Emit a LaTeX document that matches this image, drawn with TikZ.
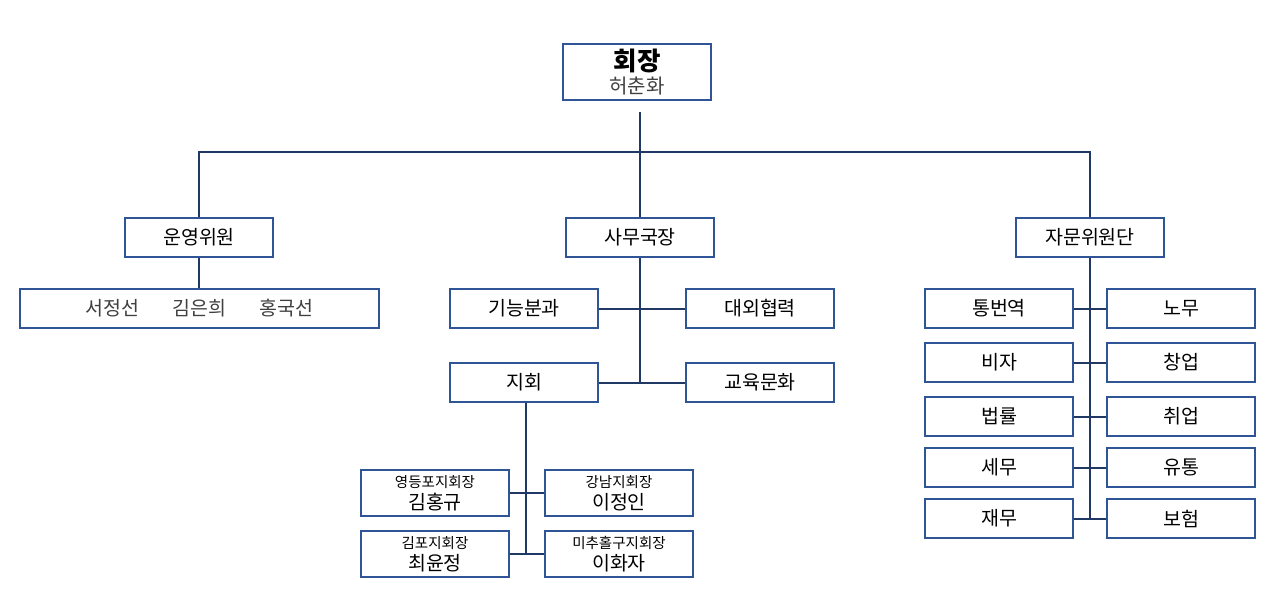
\documentclass[tikz,border=0pt]{standalone}
\usepackage{fontspec}
\setmainfont{Noto Sans CJK KR}
\usetikzlibrary{positioning}
\definecolor{boxblue}{RGB}{47,85,151}
\definecolor{linknavy}{RGB}{31,56,100}
\definecolor{namegray}{RGB}{64,64,64}

\begin{document}
\begin{tikzpicture}[x=1pt, y=-1pt, every node/.style={font=\fontsize{19.5}{22}\selectfont},
  box/.style={draw=boxblue, line width=1.8pt, fill=white, minimum width=148pt, minimum height=39pt, inner sep=0pt, align=center},
  tallbox/.style={box, minimum height=46pt},
  link/.style={draw=linknavy, line width=2pt}]
  \useasboundingbox (0,0) rectangle (1280,600);
  \node[box, minimum height=56pt] (head) at (637,72) {{\fontsize{25.5}{27}\selectfont\bfseries 회장}\\[1pt]{\color{namegray}\fontsize{20}{22}\selectfont 허춘화}};
  \coordinate (hub) at (640,112);
  \coordinate (bus) at (640,152);
  \node[box] (opcom) at (199,237.5) {운영위원};
  \node[box] (secgen) at (640,237.5) {사무국장};
  \node[box] (advis) at (1090,237.5) {자문위원단};
  \node[box, minimum width=359pt] (opmem) at (199.5,308.5) {\color{namegray}서정선\hspace{1.7em}김은희\hspace{1.7em}홍국선};
  \node[box] (skill) at (524,308.5) {기능분과};
  \node[box] (extern) at (760,308.5) {대외협력};
  \node[box] (branch) at (524,382.5) {지회};
  \node[box] (edu) at (760,382.5) {교육문화};
  \node[tallbox] (ydp) at (435,493) {{\fontsize{14.5}{16}\selectfont 영등포지회장}\\{\fontsize{19.5}{21}\selectfont 김홍규}};
  \node[tallbox] (gangnam) at (619,493) {{\fontsize{14.5}{16}\selectfont 강남지회장}\\{\fontsize{19.5}{21}\selectfont 이정인}};
  \node[tallbox] (gimpo) at (435,554) {{\fontsize{14.5}{16}\selectfont 김포지회장}\\{\fontsize{19.5}{21}\selectfont 최윤정}};
  \node[tallbox] (michu) at (619,554) {{\fontsize{14.5}{16}\selectfont 미추홀구지회장}\\{\fontsize{19.5}{21}\selectfont 이화자}};
  \node[box] (interp) at (999,308.5) {통번역};
  \node[box] (labor) at (1181,308.5) {노무};
  \node[box] (visa) at (999,362.5) {비자};
  \node[box] (startup) at (1181,362.5) {창업};
  \node[box] (law) at (999,416.5) {법률};
  \node[box] (job) at (1181,416.5) {취업};
  \node[box] (tax) at (999,467.5) {세무};
  \node[box] (retail) at (1181,467.5) {유통};
  \node[box] (finance) at (999,518.5) {재무};
  \node[box] (insur) at (1181,518.5) {보험};
  % top level
  \draw[link] (hub) -- (bus);
  \draw[link] (bus) -| (opcom.north);
  \draw[link] (bus) -| (advis.north);
  \draw[link] (bus) -- (secgen.north);
  \draw[link] (opcom.south) -- (opcom.south |- opmem.north);
  % secretariat
  \draw[link] (secgen.south) -- (secgen.south |- edu.west);
  \draw[link] (skill.east) -- (extern.west);
  \draw[link] (branch.east) -- (edu.west);
  % branches
  \draw[link] ([xshift=2pt]branch.south) -- ([xshift=2pt]branch.south |- gimpo.east);
  \draw[link] (ydp.east) -- (gangnam.west);
  \draw[link] (gimpo.east) -- (michu.west);
  % advisory group
  \draw[link] (advis.south) -- (advis.south |- finance.east);
  \draw[link] (interp.east) -- (labor.west);
  \draw[link] (visa.east) -- (startup.west);
  \draw[link] (law.east) -- (job.west);
  \draw[link] (tax.east) -- (retail.west);
  \draw[link] (finance.east) -- (insur.west);
\end{tikzpicture}
\end{document}
